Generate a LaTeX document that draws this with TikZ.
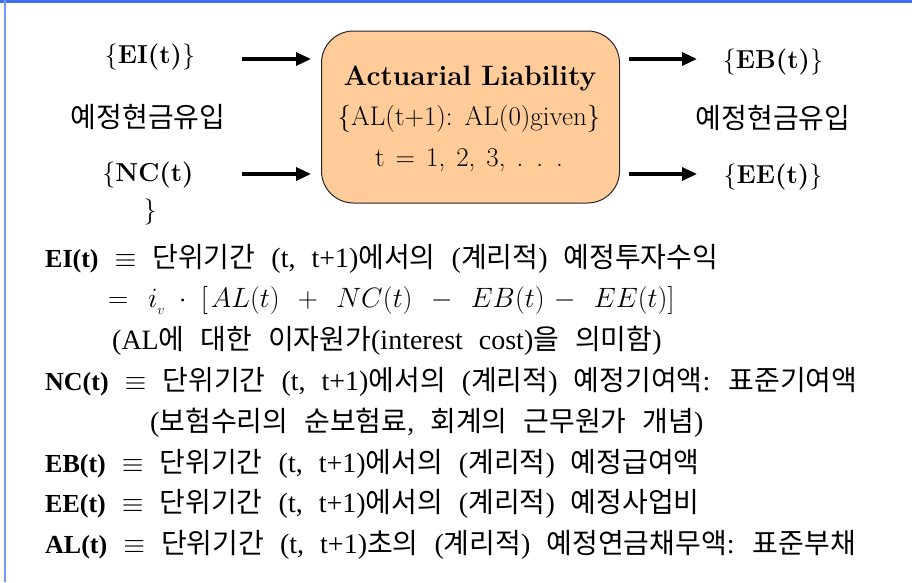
\documentclass[tikz,border=0pt]{standalone}
\usepackage{fix-cm}
\usepackage{fontspec}
\usetikzlibrary{arrows.meta}
\newfontfamily\kr{Noto Sans CJK KR}
\newfontfamily\tms{Liberation Serif}
\newcommand\K[1]{{\fontsize{28}{32}\kr #1}}
\newcommand\KL[1]{{\kr #1}}
\newcommand\B[1]{{\fontsize{26}{30}\tms\bfseries #1}}
\newcommand\setwidesp{\spaceskip=16pt\relax}
\definecolor{peach}{RGB}{255,204,153}
\definecolor{frameblue}{RGB}{66,110,240}
\definecolor{frameblue2}{RGB}{120,150,250}
\tikzset{
  lbl/.style={font=\fontsize{26}{30}\selectfont, inner sep=0pt},
  boxtxt/.style={font=\fontsize{27}{30}\selectfont, inner sep=0pt},
  defline/.style={anchor=base west, inner sep=0pt, font=\fontsize{28}{32}\tms, execute at begin node=\setwidesp},
  arr/.style={line width=3.2pt, -{Triangle[length=15pt,width=13pt]}},
  mainbox/.style={draw=black!85, line width=1pt, fill=peach, rounded corners=32pt,
    minimum width=298pt, minimum height=172pt, inner sep=0pt}
}
\begin{document}
\begin{tikzpicture}[x=1pt,y=-1pt]
\useasboundingbox (0,0) rectangle (912,582);
\fill[white] (0,0) rectangle (912,582);
% frame
\draw[frameblue, line width=3pt] (0,1.5) -- (912,1.5);
\draw[frameblue2, line width=2pt] (4.5,0) -- (4.5,582);
% main box
\node[mainbox] (box) at (470.5,117) {};
\node[boxtxt, font=\fontsize{28}{30}\selectfont\bfseries] (t1) at (470,78) {Actuarial\hspace{10pt}Liability};
\node[boxtxt] (t2) at (469,119) {\{AL(t+1):\hspace{12pt}AL(0)given\}};
\node[boxtxt] (t3) at (469,160) {t\hspace{11pt}=\hspace{11pt}1,\hspace{11pt}2,\hspace{11pt}3,\hspace{11pt}.\hspace{13pt}.\hspace{13pt}.};
% left labels
\node[lbl] (ei) at (150,57) {\{\textbf{EI(t)}\}};
\node[lbl, font=\fontsize{28}{30}\selectfont] (inl) at (148,117) {\KL{예정현금유입}};
\node[lbl] (nc) at (148,175) {\{\textbf{NC(t)}};
\node[lbl] (ncb) at (150,212) {\}};
% right labels
\node[lbl] (eb) at (773,62) {\{\textbf{EB(t)}\}};
\node[lbl, font=\fontsize{28}{30}\selectfont] (inr) at (773,118) {\KL{예정현금유입}};
\node[lbl] (ee) at (773,177) {\{\textbf{EE(t)}\}};
% arrows
\coordinate (a1) at (242,59);
\coordinate (a2) at (242,174);
\coordinate (b1) at (697,59);
\coordinate (b2) at (697,174);
\draw[arr, shorten >=10pt] (a1) -- (a1 -| box.west);
\draw[arr, shorten >=10pt] (a2) -- (a2 -| box.west);
\draw[arr, shorten <=9pt] (b1 -| box.east) -- (b1);
\draw[arr, shorten <=9pt] (b2 -| box.east) -- (b2);
% definitions
\node[defline] (d1) at (45,267) {\B{EI(t)} $\equiv$ \K{단위기간} (t, t+1)\K{에서의} (\K{계리적}) \K{예정투자수익}};
\node[defline] (d2) at (108,307) {$=\hspace{12pt}i_{_v}\hspace{7pt}\cdot\hspace{8pt}[\hspace{3pt}AL(t)\hspace{12pt}+\hspace{12pt}NC(t)\hspace{12pt}-\hspace{12pt}EB(t)\hspace{3pt}-\hspace{12pt}EE(t)]$};
\node[defline] (d3) at (112,349) {(AL\K{에} \K{대한} \K{이자원가}(interest cost)\K{을} \K{의미함})};
\node[defline] (d4) at (45,390) {\B{NC(t)} $\equiv$ \K{단위기간} (t, t+1)\K{에서의} (\K{계리적}) \K{예정기여액}: \K{표준기여액}};
\node[defline] (d5) at (150,431) {(\K{보험수리의} \K{순보험료}, \K{회계의} \K{근무원가} \K{개념})};
\node[defline] (d6) at (45,472) {\B{EB(t)} $\equiv$ \K{단위기간} (t, t+1)\K{에서의} (\K{계리적}) \K{예정급여액}};
\node[defline] (d7) at (45,512) {\B{EE(t)} $\equiv$ \K{단위기간} (t, t+1)\K{에서의} (\K{계리적}) \K{예정사업비}};
\node[defline] (d8) at (45,553) {\B{AL(t)} $\equiv$ \K{단위기간} (t, t+1)\K{초의} (\K{계리적}) \K{예정연금채무액}: \K{표준부채}};
\end{tikzpicture}
\end{document}
